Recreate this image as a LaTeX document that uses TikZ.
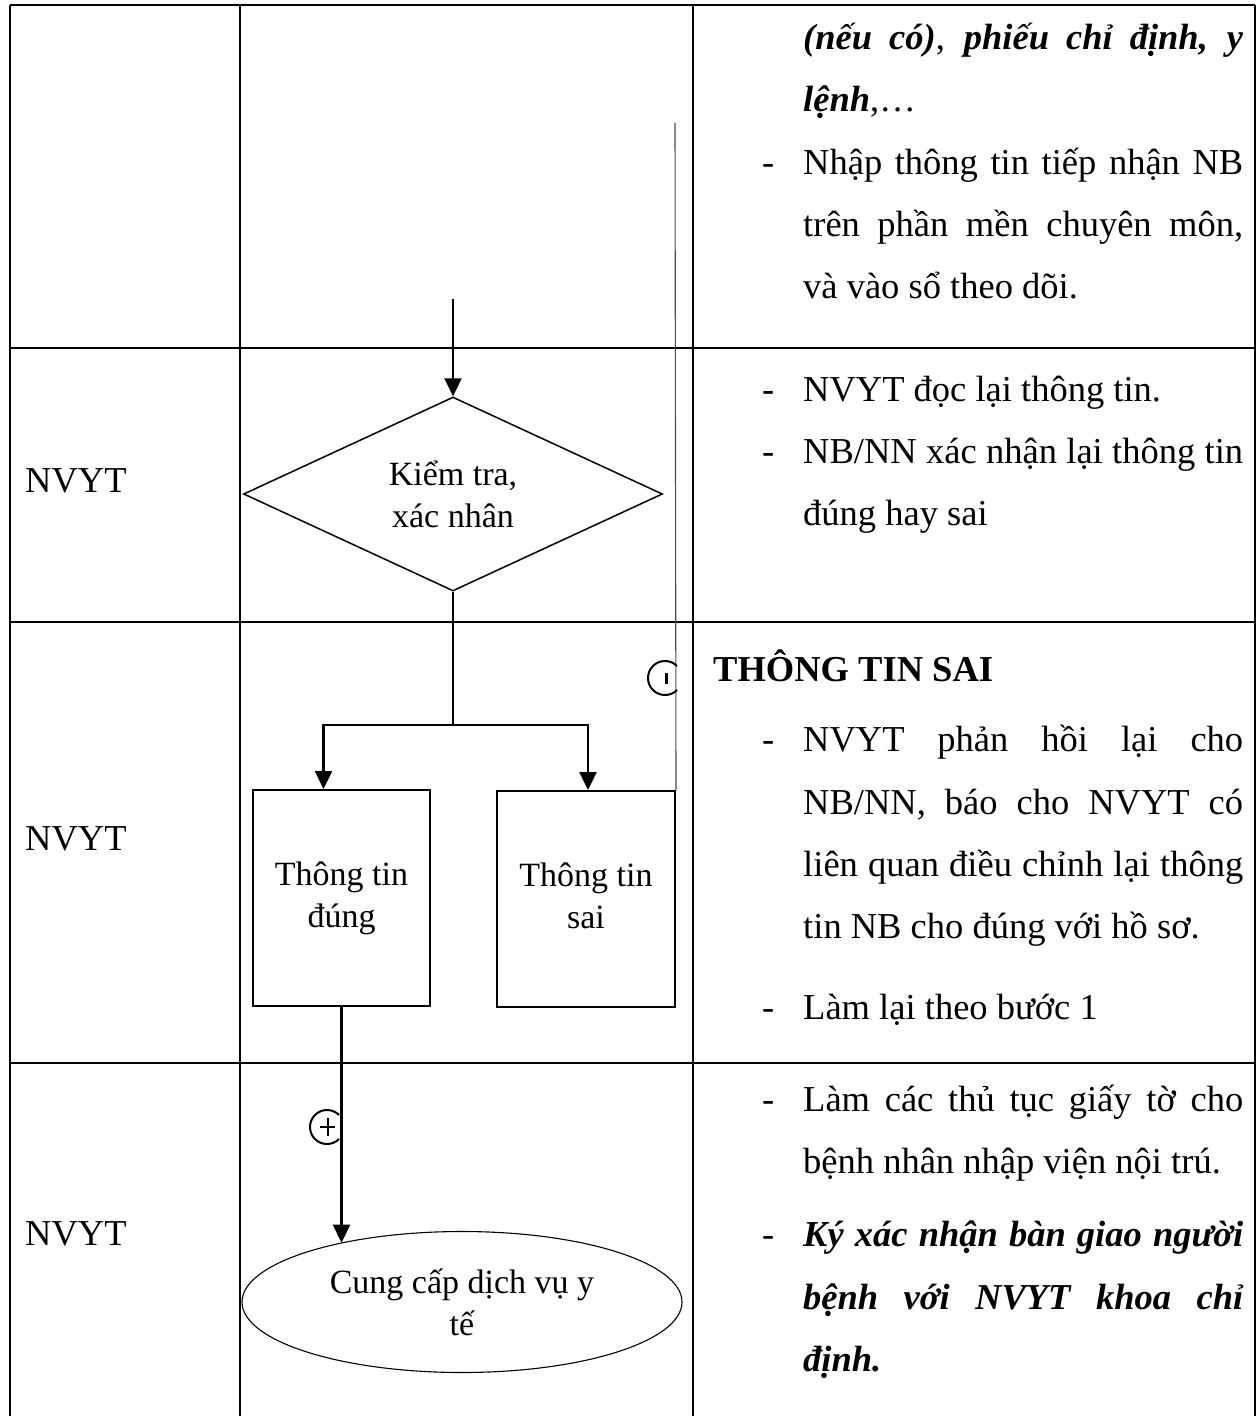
\documentclass[tikz,border=0pt]{standalone}
\usepackage{fontspec}
\setmainfont{Liberation Serif}
\usetikzlibrary{shapes.geometric,arrows.meta}
\newcommand{\jline}[1]{\makebox[440pt][s]{#1}}

\begin{document}
\begin{tikzpicture}[x=1pt,y=-1pt]
	\tikzstyle{grid}=[line width=2.6pt]
	\tikzstyle{body}=[anchor=base west,inner sep=0pt,font=\fontsize{36.5}{44}\selectfont]
	\tikzstyle{shapetext}=[font=\fontsize{34}{42}\selectfont,align=center,inner sep=0pt]
	\tikzstyle{flow}=[line width=2.4pt,-{Triangle[length=18pt,width=17pt]}]
	\tikzstyle{thinline}=[line width=1.1pt]

	\useasboundingbox (0,0) rectangle (1258,1416);

	% table
	\draw[grid] (10,5) -- (1255,5);
	\draw[grid] (10,348) -- (1255,348);
	\draw[grid] (10,622) -- (1255,622);
	\draw[grid] (10,1063) -- (1255,1063);
	\draw[grid] (10,5) -- (10,1416);
	\draw[grid] (240,5) -- (240,1416);
	\draw[grid] (693,5) -- (693,1416);
	\draw[grid] (1255,5) -- (1255,1416);

	% lanes
	\node (n2) at (25,492) [body] {NVYT};
	\node (n3) at (25,850) [body] {NVYT};
	\node (n4) at (25,1245) [body] {NVYT};

	% flow
	\node (check) at (453,494) [diamond, aspect=2.16, draw, line width=1.5pt, minimum width=419pt, minimum height=194pt, shapetext] {Kiểm tra,\\xác nhân};
	\node (ok) at (341.5,898) [rectangle, draw, line width=2pt, minimum width=177pt, minimum height=216pt, shapetext] {Thông tin\\đúng};
	\node (bad) at (586,899) [rectangle, draw, line width=2pt, minimum width=178pt, minimum height=216pt, shapetext] {Thông tin\\sai\vphantom{đg}};
	\node (svc) at (462,1302) [ellipse, draw, line width=1.1pt, minimum width=440pt, minimum height=141pt, shapetext] {Cung cấp dịch vụ y\\tế};

	\coordinate (start) at (453,299);
	\coordinate (split) at (453,725);
	\coordinate (back) at (675,123);

	\draw[flow] (start) -- (check.north);
	\draw[thinline] (check.south) -- (split);
	\draw[flow] (split) -| ([xshift=-18pt]ok.north);
	\draw[flow] (split) -| ([xshift=2pt]bad.north);
	\draw[thinline, gray!60!black] (bad.north east) -- (back);
	\draw[flow] (ok.south) -- (ok.south |- svc.154);

	% connector marks
	\coordinate (m1) at (665,678);
	\coordinate (m2) at (327,1127);
	\draw[line width=2pt] (m1) ++(45:17) arc (45:315:17);
	\draw[line width=3pt] (m1) ++(1,-5) -- ++(0,11);
	\draw[line width=2pt] (m2) ++(45:17) arc (45:315:17);
	\draw[line width=1.4pt] (m2) ++(-7,0) -- ++(15,0) (m2) ++(1,-9) -- ++(0,18);

	% row 1
	\node (r1a) at (803,49) [body] {\jline{\textbf{\textit{(nếu có)}}, \textbf{\textit{phiếu chỉ định, y}}}};
	\node (r1b) at (803,111) [body] {\textbf{\textit{lệnh}},…};
	\node (d1) at (762,174) [body] {-};
	\node (r1c) at (803,174) [body] {\jline{Nhập thông tin tiếp nhận NB}};
	\node (r1d) at (803,236) [body] {\jline{trên phần mền chuyên môn,}};
	\node (r1e) at (803,298) [body] {và vào sổ theo dõi.};

	% row 2
	\node (d2a) at (762,401) [body] {-};
	\node (r2a) at (803,401) [body] {NVYT đọc lại thông tin.};
	\node (d2b) at (762,463) [body] {-};
	\node (r2b) at (803,463) [body] {\jline{NB/NN xác nhận lại thông tin}};
	\node (r2c) at (803,525) [body] {đúng hay sai};

	% row 3
	\node (r3h) at (713,681) [body] {\textbf{THÔNG TIN SAI}};
	\node (d3a) at (762,751) [body] {-};
	\node (r3a) at (803,751) [body] {\jline{NVYT phản hồi lại cho}};
	\node (r3b) at (803,814) [body] {\jline{NB/NN, báo cho NVYT có}};
	\node (r3c) at (803,876) [body] {\jline{liên quan điều chỉnh lại thông}};
	\node (r3d) at (803,938) [body] {tin NB cho đúng với hồ sơ.};
	\node (d3b) at (762,1019) [body] {-};
	\node (r3e) at (803,1019) [body] {Làm lại theo bước 1};

	% row 4
	\node (d4a) at (762,1111) [body] {-};
	\node (r4a) at (803,1111) [body] {\jline{Làm các thủ tục giấy tờ cho}};
	\node (r4b) at (803,1173) [body] {bệnh nhân nhập viện nội trú.};
	\node (d4b) at (762,1246) [body] {-};
	\node (r4c) at (803,1246) [body] {\jline{\bfseries\itshape Ký xác nhận bàn giao người}};
	\node (r4d) at (803,1309) [body] {\jline{\bfseries\itshape bệnh với NVYT khoa chỉ}};
	\node (r4e) at (803,1371) [body] {\bfseries\itshape định.};
\end{tikzpicture}
\end{document}
